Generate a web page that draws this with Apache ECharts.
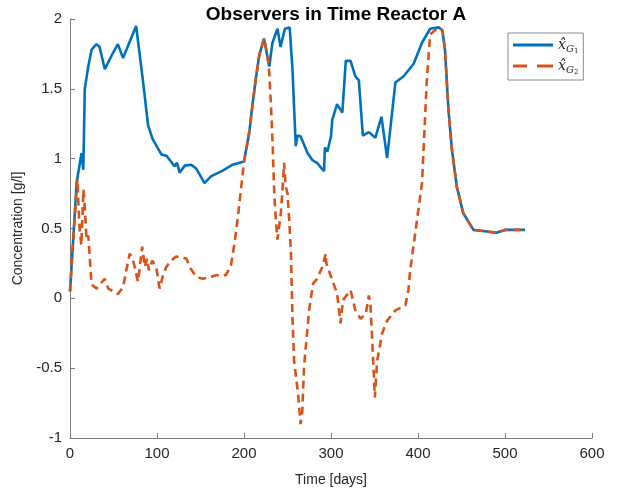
<!DOCTYPE html>
<html>
<head>
<meta charset="utf-8" />
<title>Observers in Time Reactor A</title>
<script src="https://cdn.jsdelivr.net/npm/echarts@6/dist/echarts.min.js"></script>
<style>
  body { margin: 0; padding: 0; background: #fff; }
  #main { width: 628px; height: 493px; }
</style>
</head>
<body>
<div id="main"></div>
<script>
// observer G1 (solid blue)
var daysG1 = [
  0, 4, 7.6, 13.3, 15.3, 17, 21, 24.8, 30.5, 34,
  40, 49.6, 55, 61, 76, 78, 84, 89.7, 95, 105,
  111, 116, 120, 123, 126, 132, 139, 145, 154.6, 162,
  175.5, 187, 200, 206, 210, 214, 217.5, 223, 225, 229,
  232.7, 238.5, 242, 247, 249, 252.5, 255.7, 259.5, 261.5, 265,
  273, 278.6, 284, 292, 293, 295.8, 300, 301.5, 307, 313,
  317, 322.5, 328, 332, 336.6, 343.5, 351, 358, 364.5, 374,
  383.6, 395, 404.6, 414, 423.7, 428, 431, 435, 439, 444.6,
  452, 463.7, 477, 490, 500, 523
];
var valsG1 = [
  0.05, 0.45, 0.83, 1.04, 0.92, 1.5, 1.66, 1.78, 1.82, 1.80,
  1.64, 1.76, 1.82, 1.72, 1.95, 1.94, 1.55, 1.24, 1.14, 1.03,
  1.02, 0.98, 0.945, 0.97, 0.90, 0.95, 0.957, 0.93, 0.825, 0.873,
  0.915, 0.957, 0.98, 1.185, 1.40, 1.59, 1.74, 1.86, 1.87, 1.66,
  1.83, 1.93, 1.80, 1.93, 1.92, 1.94, 1.64, 1.09, 1.165, 1.16,
  1.04, 0.99, 0.97, 0.91, 1.08, 1.05, 1.16, 1.28, 1.39, 1.33,
  1.70, 1.70, 1.59, 1.56, 1.165, 1.19, 1.15, 1.30, 1.005, 1.545,
  1.59, 1.68, 1.83, 1.93, 1.94, 1.92, 1.78, 1.35, 1.065, 0.80,
  0.61, 0.49, 0.48, 0.47, 0.49, 0.49
];

// observer G2 (dashed orange)
var daysG2 = [
  0, 4, 8.5, 11, 13, 15.5, 17.5, 19, 21, 24.8,
  30.5, 40, 44, 55, 61, 65, 68.7, 73.3, 78, 80,
  83, 86, 88.5, 90.8, 94.6, 99, 103, 107, 110.7, 116,
  122, 133.6, 139, 145, 152.6, 168, 179, 185, 189, 193,
  196.5, 200, 206, 210, 214, 217.5, 223, 227, 229, 231,
  233, 234.8, 236.6, 238.5, 242.3, 244, 246, 248, 250, 252,
  254, 255.7, 257.6, 260, 262.5, 265, 267, 269, 271.7, 274.8,
  279.4, 284, 290, 294, 294.6, 301.5, 307, 311, 313.7, 322.5,
  328, 334, 340, 343.5, 345.5, 347, 349, 350.4, 353, 358.8,
  364.5, 374, 385.5, 389, 391, 404.6, 410, 414, 423.7, 428,
  431, 435, 439, 444.6, 452, 463.7, 477, 490, 500, 523
];
var valsG2 = [
  0.05, 0.45, 0.85, 0.5, 0.38, 0.78, 0.6, 0.42, 0.45, 0.1,
  0.07, 0.14, 0.07, 0.03, 0.08, 0.21, 0.32, 0.255, 0.12, 0.21,
  0.37, 0.225, 0.285, 0.20, 0.27, 0.225, 0.07, 0.165, 0.225, 0.27,
  0.30, 0.285, 0.21, 0.155, 0.14, 0.165, 0.165, 0.235, 0.39, 0.585,
  0.78, 0.98, 1.185, 1.40, 1.59, 1.74, 1.86, 1.74, 1.62, 1.38,
  1.09, 0.75, 0.56, 0.42, 0.61, 0.75, 0.97, 0.80, 0.75, 0.56,
  0.32, -0.135, -0.45, -0.57, -0.71, -0.90, -0.81, -0.49, -0.30, -0.086,
  0.105, 0.14, 0.225, 0.32, 0.25, 0.13, 0.034, -0.18, -0.014, 0.058,
  -0.086, -0.146, -0.11, 0.02, -0.06, -0.25, -0.52, -0.71, -0.45, -0.25,
  -0.16, -0.086, -0.05, 0.058, 0.20, 0.825, 1.545, 1.89, 1.94, 1.92,
  1.78, 1.35, 1.065, 0.80, 0.61, 0.49, 0.48, 0.47, 0.49, 0.49
];

var xTicks = [0, 100, 200, 300, 400, 500, 600];
var yTicks = [-1, -0.5, 0, 0.5, 1, 1.5, 2];

function pairs(xs, ys) {
  return xs.map(function (x, i) { return [x, ys[i]]; });
}

var mychart = echarts.init(document.getElementById('main'));
var labelFont = 'Liberation Sans, Arial, sans-serif';
var mathRich = {
  x: { fontFamily: 'DejaVu Serif', fontStyle: 'italic', fontSize: 14, color: '#262626' },
  g: { fontFamily: 'DejaVu Serif', fontStyle: 'italic', fontSize: 10, color: '#262626', padding: [9, 0, 0, 0] },
  n: { fontFamily: 'DejaVu Serif', fontSize: 7, color: '#262626', padding: [13, 0, 0, 0] }
};
// legend samples: solid bar and two dashes, as in the figure
var solidIcon = 'path://M0,0h40v3h-40z';
var dashIcon = 'path://M0,0h14v3h-14zM24,0h16v3h-16z';

mychart.setOption({
  animation: false,
  color: ['#0072BD', '#D95319'],
  title: {
    text: 'Observers in Time Reactor A',
    left: 331,
    textAlign: 'center',
    top: 0,
    textStyle: { fontFamily: labelFont, fontSize: 19, fontWeight: 'bold', color: '#000' }
  },
  legend: {
    orient: 'vertical',
    left: 508,
    top: 33,
    padding: [5, 5, 4, 5],
    itemGap: 4,
    itemWidth: 40,
    itemHeight: 3,
    backgroundColor: '#fff',
    borderColor: '#8c8c8c',
    borderWidth: 1,
    borderRadius: 0,
    data: [
      { name: 'G1', icon: solidIcon },
      { name: 'G2', icon: dashIcon }
    ],
    formatter: function (name) {
      return '{x|x\u0302}{g|G}{n|' + name.slice(1) + '}';
    },
    textStyle: { rich: mathRich }
  },
  grid: { left: 70, right: 36, top: 19, bottom: 55 },
  xAxis: {
    type: 'value',
    min: xTicks[0],
    max: xTicks[xTicks.length - 1],
    interval: 100,
    name: 'Time [days]',
    nameLocation: 'middle',
    nameGap: 35,
    nameTextStyle: { fontFamily: labelFont, fontSize: 14, color: '#262626' },
    axisLine: { onZero: false, lineStyle: { color: '#7a7a7a', width: 1 } },
    axisTick: { inside: true, length: 5, lineStyle: { color: '#7a7a7a' } },
    axisLabel: { fontFamily: labelFont, fontSize: 15, color: '#262626', margin: 8 },
    splitLine: { show: false }
  },
  yAxis: {
    type: 'value',
    min: yTicks[0],
    max: yTicks[yTicks.length - 1],
    interval: 0.5,
    name: 'Concentration [g/l]',
    nameLocation: 'middle',
    nameGap: 39,
    nameTextStyle: { fontFamily: labelFont, fontSize: 14, color: '#262626' },
    axisLine: { show: true, onZero: false, lineStyle: { color: '#7a7a7a', width: 1 } },
    axisTick: { show: true, inside: true, length: 5, lineStyle: { color: '#7a7a7a' } },
    axisLabel: { fontFamily: labelFont, fontSize: 15, color: '#262626', margin: 8 },
    splitLine: { show: false }
  },
  series: [
    {
      name: 'G1',
      type: 'line',
      data: pairs(daysG1, valsG1),
      showSymbol: false,
      symbol: 'none',
      lineStyle: { width: 2.6, color: '#0072BD' },
      z: 2
    },
    {
      name: 'G2',
      type: 'line',
      data: pairs(daysG2, valsG2),
      showSymbol: false,
      symbol: 'none',
      lineStyle: { width: 2.6, color: '#D95319', type: [8, 5] },
      z: 3
    }
  ]
});
</script>
</body>
</html>
